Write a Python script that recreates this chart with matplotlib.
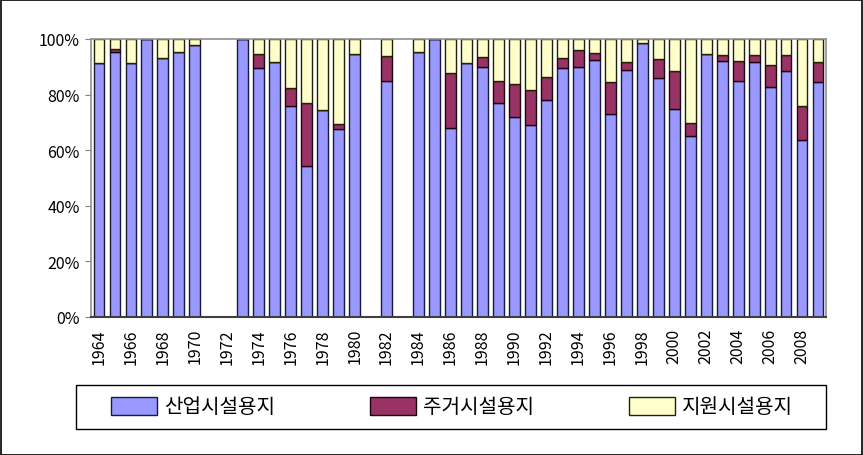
import numpy as np
import matplotlib
matplotlib.use("Agg")
import matplotlib.pyplot as plt
from matplotlib.patches import Rectangle

plt.rcParams['font.family'] = ['Noto Sans CJK KR', 'DejaVu Sans']

years = list(range(1964, 2010))
missing = [1971, 1972, 1981, 1983]

# percentages per year (years without data are absent)
industrial = {
    1964: 91.3, 1965: 95.2, 1966: 91.3, 1967: 100.0, 1968: 93.3, 1969: 95.2, 1970: 97.9,
    1973: 100.0, 1974: 89.5, 1975: 91.8, 1976: 76.0, 1977: 54.2, 1978: 74.4, 1979: 67.6, 1980: 94.5,
    1982: 84.8, 1984: 95.2, 1985: 100.0, 1986: 68.1, 1987: 91.2, 1988: 89.9, 1989: 77.1,
    1990: 71.9, 1991: 69.2, 1992: 78.2, 1993: 89.5, 1994: 89.9, 1995: 92.6, 1996: 73.1,
    1997: 88.8, 1998: 98.5, 1999: 86.1, 2000: 74.9, 2001: 65.2, 2002: 94.7, 2003: 92.2,
    2004: 85.0, 2005: 91.8, 2006: 82.8, 2007: 88.4, 2008: 63.6, 2009: 84.5,
}
residential = {
    1964: 0.0, 1965: 1.2, 1966: 0.0, 1967: 0.0, 1968: 0.0, 1969: 0.0, 1970: 0.0,
    1973: 0.0, 1974: 5.2, 1975: 0.0, 1976: 6.2, 1977: 22.9, 1978: 0.0, 1979: 1.7, 1980: 0.0,
    1982: 9.1, 1984: 0.0, 1985: 0.0, 1986: 19.8, 1987: 0.0, 1988: 3.6, 1989: 7.7,
    1990: 11.9, 1991: 12.4, 1992: 8.3, 1993: 3.7, 1994: 6.2, 1995: 2.4, 1996: 11.3,
    1997: 3.0, 1998: 0.0, 1999: 6.6, 2000: 13.5, 2001: 4.6, 2002: 0.0, 2003: 2.0,
    2004: 7.2, 2005: 2.3, 2006: 7.7, 2007: 5.7, 2008: 12.3, 2009: 7.3,
}
support = {
    1964: 8.7, 1965: 3.6, 1966: 8.7, 1967: 0.0, 1968: 6.7, 1969: 4.8, 1970: 2.1,
    1973: 0.0, 1974: 5.3, 1975: 8.2, 1976: 17.8, 1977: 22.9, 1978: 25.6, 1979: 30.7, 1980: 5.5,
    1982: 6.1, 1984: 4.8, 1985: 0.0, 1986: 12.1, 1987: 8.8, 1988: 6.5, 1989: 15.2,
    1990: 16.2, 1991: 18.4, 1992: 13.5, 1993: 6.8, 1994: 3.9, 1995: 5.0, 1996: 15.6,
    1997: 8.2, 1998: 1.5, 1999: 7.3, 2000: 11.6, 2001: 30.2, 2002: 5.3, 2003: 5.8,
    2004: 7.8, 2005: 5.9, 2006: 9.5, 2007: 5.9, 2008: 24.1, 2009: 8.2,
}

series_names = ['산업시설용지', '주거시설용지', '지원시설용지']
colors = ['#9999FF', '#993366', '#FFFFCC']

xticks = list(range(1964, 2009, 2))
yticks = [0, 20, 40, 60, 80, 100]
ytick_labels = ['0%', '20%', '40%', '60%', '80%', '100%']

W, H = 863, 456
fig = plt.figure(figsize=(W / 100, H / 100), dpi=100)

ax = fig.add_axes([91 / W, 1 - 318 / H, (826 - 91) / W, (318 - 40) / H])

yrs = [y for y in years if y in industrial]
a = np.array([industrial[y] for y in yrs])
b = np.array([residential[y] for y in yrs])
c = np.array([support[y] for y in yrs])

bw = 0.68
h1 = ax.bar(yrs, a, width=bw, color=colors[0], edgecolor='#1a1a33', linewidth=1.0, label=series_names[0])
h2 = ax.bar(yrs, b, bottom=a, width=bw, color=colors[1], edgecolor='#1a0010', linewidth=1.0, label=series_names[1])
h3 = ax.bar(yrs, c, bottom=a + b, width=bw, color=colors[2], edgecolor='#222200', linewidth=1.0, label=series_names[2])

ax.set_xlim(1963.5, 2009.5)
ax.set_ylim(0, 100)
ax.set_xticks(xticks)
ax.set_xticklabels([str(x) for x in xticks], rotation=90, fontsize=11.5)
ax.set_yticks(yticks)
ax.set_yticklabels(ytick_labels, fontsize=11.5)
ax.tick_params(axis='x', length=0, pad=8)
ax.tick_params(axis='y', length=4, direction='out', color='#808080', pad=4)

for s in ['top', 'right', 'left']:
    ax.spines[s].set_color('#909090')
    ax.spines[s].set_linewidth(1.2)
ax.spines['bottom'].set_color('#404040')
ax.spines['bottom'].set_linewidth(1.5)

# legend box
fig.add_artist(Rectangle((76 / W, 1 - 430 / H), (826 - 76) / W, (430 - 386) / H,
                         transform=fig.transFigure, fill=False, edgecolor='black', linewidth=1.0))
fs = 14.5
px = fs * 100 / 72
leg = fig.legend(handles=[h1, h2, h3], labels=series_names, ncol=3, loc='center left',
                 bbox_to_anchor=(111 / W, 1 - 408 / H),
                 frameon=False, fontsize=fs,
                 handlelength=46 / px, handleheight=20 / px, handletextpad=7 / px,
                 columnspacing=95 / px, borderaxespad=0.0, borderpad=0.0)

# outer border
fig.add_artist(Rectangle((0.5 / W, 0.5 / H), (W - 1.5) / W, (H - 1.5) / H,
                         transform=fig.transFigure, fill=False, edgecolor='black', linewidth=1.2))

fig.savefig('out.png', dpi=100)
